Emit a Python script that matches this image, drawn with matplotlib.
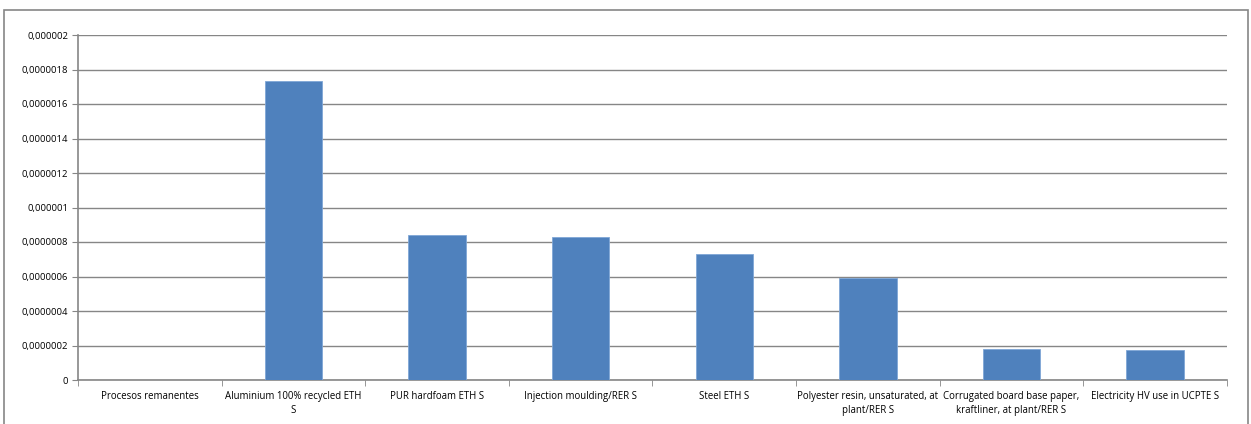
import matplotlib
matplotlib.use("Agg")
import matplotlib.pyplot as plt
from matplotlib.patches import Rectangle

categories = [
    "Procesos remanentes",
    "Aluminium 100% recycled ETH\nS",
    "PUR hardfoam ETH S",
    "Injection moulding/RER S",
    "Steel ETH S",
    "Polyester resin, unsaturated, at\nplant/RER S",
    "Corrugated board base paper,\nkraftliner, at plant/RER S",
    "Electricity HV use in UCPTE S",
]
values = [0, 1.733e-6, 0.841e-6, 0.829e-6, 0.730e-6, 0.591e-6, 0.180e-6, 0.174e-6]
ytick_vals = [0, 2e-7, 4e-7, 6e-7, 8e-7, 1e-6, 1.2e-6, 1.4e-6, 1.6e-6, 1.8e-6, 2e-6]
ytick_labels = ["0", "0,0000002", "0,0000004", "0,0000006", "0,0000008", "0,000001",
                "0,0000012", "0,0000014", "0,0000016", "0,0000018", "0,000002"]

plt.rcParams['font.family'] = ['Open Sans', 'DejaVu Sans']
grid_col = '#868686'

fig = plt.figure(figsize=(12.51, 4.24), dpi=100)
ax = fig.add_axes([78/1251, 1 - 380/424, (1227-78)/1251, 345/424])

x = list(range(len(categories)))
ax.bar(x, values, width=0.4, color='#4F81BD', edgecolor='#7FA6D6', linewidth=0.6, zorder=3)

ax.set_xlim(-0.5, len(categories) - 0.5)
ax.set_ylim(0, 2e-6)
ax.set_yticks(ytick_vals)
ax.set_yticklabels(ytick_labels, fontsize=6.8)
ax.yaxis.grid(True, color=grid_col, linewidth=1.0, zorder=0)

ax.set_xticks(x)
ax.set_xticklabels(categories, fontsize=6.9, linespacing=1.35)
ax.tick_params(axis='x', length=0, pad=8)
ax.set_xticks([i + 0.5 for i in range(-1, len(categories))], minor=True)
ax.tick_params(axis='x', which='minor', length=4, color=grid_col, direction='out')
ax.tick_params(axis='y', length=4, color=grid_col, direction='out', pad=3)

for side in ['top', 'right']:
    ax.spines[side].set_visible(False)
for side in ['left', 'bottom']:
    ax.spines[side].set_color(grid_col)
    ax.spines[side].set_linewidth(1.2)

fig.patches.append(Rectangle((4/1251, -0.05), (1248-4)/1251, 1.05 - 10/424,
                             transform=fig.transFigure, fill=False,
                             edgecolor=grid_col, linewidth=1.2))

fig.savefig("out.png", dpi=100)
